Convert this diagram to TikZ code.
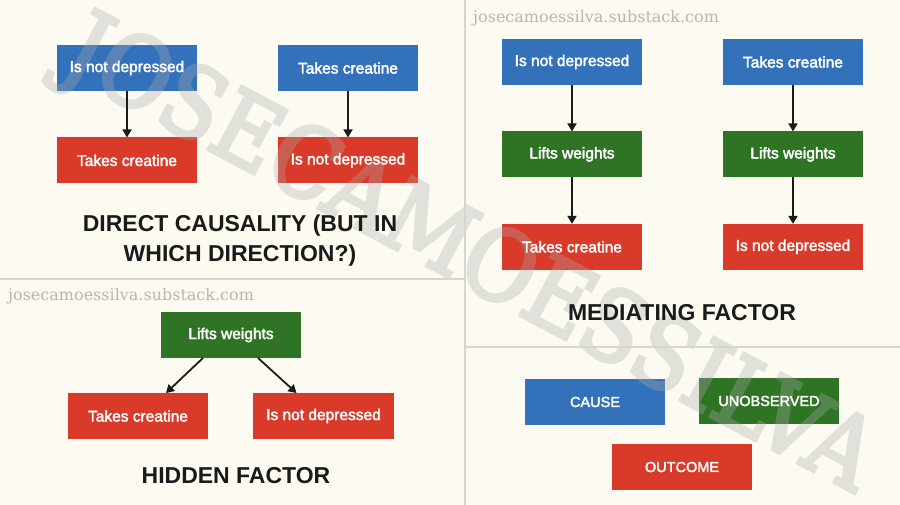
\documentclass[tikz,border=0pt]{standalone}
\usepackage{fontspec}
\setmainfont{Liberation Sans}
\newfontfamily\boxfont{Liberation Sans}[FakeBold=2.5]
\newfontfamily\urlfont{DejaVu Serif}
\newfontfamily\markfont{DejaVu Serif}[FakeBold=4]
\usetikzlibrary{positioning, arrows.meta}
\definecolor{canvas}{HTML}{FCFAF1}
\definecolor{causeblue}{HTML}{3372BA}
\definecolor{outcomered}{HTML}{D93A2A}
\definecolor{hiddengreen}{HTML}{2E7424}
\definecolor{rule}{HTML}{D6D5D0}
\definecolor{ink}{HTML}{1A1A1A}
\definecolor{urlgray}{HTML}{B8B6B0}
\definecolor{markgray}{HTML}{ABABAB}
\pgfdeclarelayer{fills}
\pgfdeclarelayer{mark}
\pgfsetlayers{fills,mark,main}
\tikzset{
  tint/.style={append after command={\pgfextra{\begin{pgfonlayer}{fills}
      \fill[#1] (\tikzlastnode.south west) rectangle (\tikzlastnode.north east);
      \end{pgfonlayer}}}},
  boxbase/.style={minimum width=140pt, minimum height=45.5pt, inner sep=0pt, text=white, font=\boxfont\fontsize{15.5}{18}\selectfont},
  cause/.style={boxbase, tint=causeblue},
  outcome/.style={boxbase, tint=outcomered},
  hidden/.style={boxbase, tint=hiddengreen},
  keybox/.style={font=\boxfont\fontsize{14.5}{18}\selectfont},
  arrow/.style={-{Triangle[length=8pt, width=9pt]}, line width=1.8pt, draw=ink},
  divider/.style={draw=rule, line width=2.5pt},
  caption/.style={text=ink, align=center, font=\bfseries\fontsize{23}{30}\selectfont},
  site/.style={text=urlgray, font=\urlfont\fontsize{16}{18}\selectfont, anchor=west, inner sep=0pt},
}
\begin{document}
\begin{tikzpicture}[x=1pt, y=-1pt, node distance=46.5pt]
  % canvas and panel rules
  \begin{pgfonlayer}{fills}
    \fill[canvas] (0,0) rectangle (900,505);
  \end{pgfonlayer}
  \useasboundingbox (0,0) rectangle (900,505);
  \draw[divider] (465,0) -- (465,505);
  \draw[divider] (0,279) -- (465,279);
  \draw[divider] (465,347) -- (900,347);

  % direct causality, one pair per direction
  \node[cause] (dcA) at (127,68) {Is not depressed};
  \node[outcome, below=of dcA] (dcAout) {Takes creatine};
  \node[cause] (dcB) at (348,68) {Takes creatine};
  \node[outcome, below=of dcB] (dcBout) {Is not depressed};
  \draw[arrow] (dcA) -- (dcAout);
  \draw[arrow] (dcB) -- (dcBout);
  \node[caption] (dctitle) at (240,241) {DIRECT CAUSALITY (BUT IN\\WHICH DIRECTION?)};

  % mediating factor
  \node[site] (siteR) at (473,18) {josecamoessilva.substack.com};
  \node[cause] (mdA) at (572,62) {Is not depressed};
  \node[hidden, below=of mdA] (mdAmid) {Lifts weights};
  \node[outcome, below=of mdAmid] (mdAout) {Takes creatine};
  \node[cause] (mdB) at (793,62) {Takes creatine};
  \node[hidden, below=of mdB] (mdBmid) {Lifts weights};
  \node[outcome, below=of mdBmid] (mdBout) {Is not depressed};
  \draw[arrow] (mdA) -- (mdAmid);
  \draw[arrow] (mdAmid) -- (mdAout);
  \draw[arrow] (mdB) -- (mdBmid);
  \draw[arrow] (mdBmid) -- (mdBout);
  \node[caption] (mdtitle) at (682,313) {MEDIATING FACTOR};

  % hidden factor
  \node[site] (siteL) at (8,296) {josecamoessilva.substack.com};
  \node[hidden] (hfmid) at (231,335) {Lifts weights};
  \node[outcome] (hfA) at (138,416) {Takes creatine};
  \node[outcome] (hfB) at (323.5,416) {Is not depressed};
  \draw[arrow] ([xshift=-28pt]hfmid.south) -- ([xshift=28pt]hfA.north);
  \draw[arrow] ([xshift=27pt]hfmid.south) -- ([xshift=-27pt]hfB.north);
  \node[caption] (hftitle) at (236,476) {HIDDEN FACTOR};

  % key
  \node[cause, keybox] (keycause) at (595,402) {CAUSE};
  \node[hidden, keybox] (keyhidden) at (769,401) {UNOBSERVED};
  \node[outcome, keybox] (keyout) at (682,467) {OUTCOME};

  % watermark across the whole sheet, over the fills, under the texts
  \begin{pgfonlayer}{mark}
    \begin{scope}[transparency group, opacity=0.32]
      \node[text=markgray, transform shape, rotate=-28, yscale=1.12,
            font=\markfont\fontsize{87}{87}\selectfont] (mark) at (468,258) {JOSECAMOESSILVA};
    \end{scope}
  \end{pgfonlayer}
\end{tikzpicture}
\end{document}
